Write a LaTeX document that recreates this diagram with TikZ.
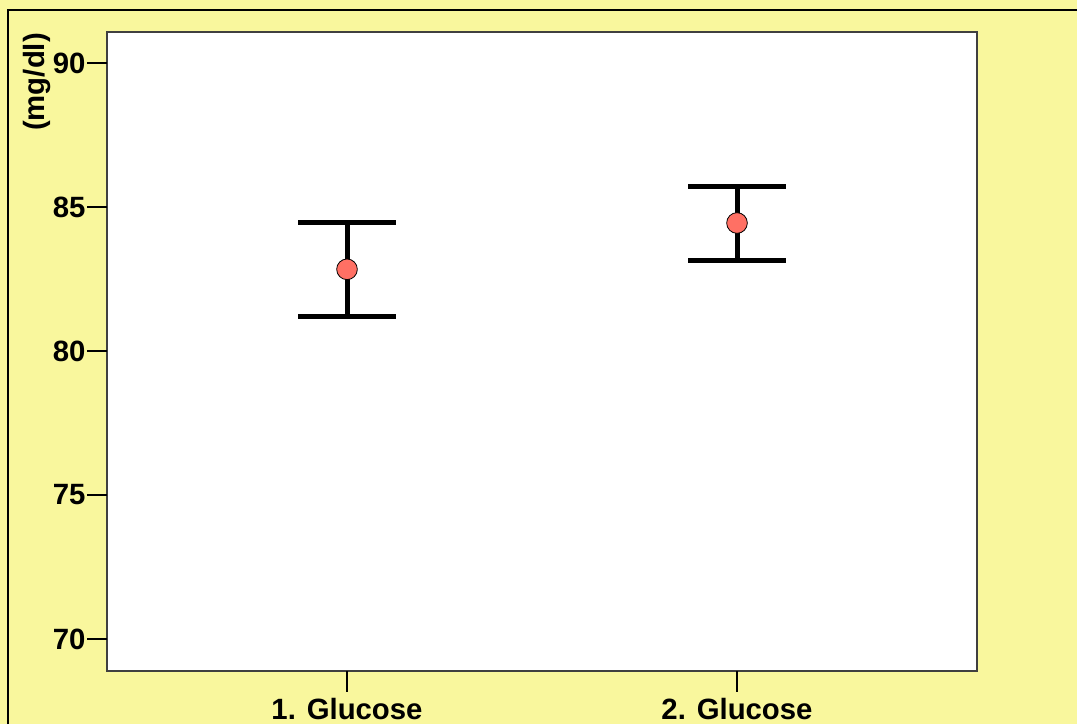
\documentclass[tikz,border=0pt]{standalone}
\usepackage{fontspec}
\setmainfont{Liberation Sans}
\usetikzlibrary{calc}
\definecolor{paper}{RGB}{249,247,157}
\definecolor{dot}{RGB}{255,112,100}

\begin{document}
\begin{tikzpicture}[x=0.75pt,y=-0.75pt,
    lbl/.style={font=\fontsize{22}{26}\selectfont\bfseries},
    bar/.style={line width=3.75pt},
    tk/.style={line width=1pt},
    meanpt/.style={circle,draw=black,line width=0.6pt,fill=dot,minimum size=15.5pt,inner sep=0pt}]
    \useasboundingbox (0,0) rectangle (1077,724);
    \fill[paper] (0,0) rectangle (1077,724);
    \draw[line width=1.5pt] (8,724) -- (8,10) -- (1077,10);
    % plot area
    \coordinate (P1) at (107,32);
    \coordinate (P2) at (977,671);
    \draw[fill=white,draw=black!75,line width=1.1pt] (P1) rectangle (P2);
    % y axis
    \foreach \v in {70,75,...,90}{
        \pgfmathsetmacro\yy{2655-28.8*\v}
        \coordinate (t\v) at (107,\yy);
        \coordinate (s\v) at (87,\yy);
        \draw[tk] (t\v) -- (s\v);
        \node[lbl,left,inner sep=1pt] (n\v) at (s\v) {\v};
    }
    \node[lbl,rotate=90] (unit) at (37,82) {(mg/dl)};
    % x axis
    \coordinate (g1) at (347,671);
    \coordinate (h1) at (347,692);
    \coordinate (g2) at (737,671);
    \coordinate (h2) at (737,692);
    \draw[tk] (g1) -- (h1);
    \draw[tk] (g2) -- (h2);
    \node[lbl,anchor=base] (x1) at (347,719) {1. Glucose};
    \node[lbl,anchor=base] (x2) at (737,719) {2. Glucose};
    % error bars
    \coordinate (a1) at (347,222.7);
    \coordinate (b1) at (347,316.7);
    \coordinate (a2) at (737,186);
    \coordinate (b2) at (737,260.7);
    \draw[bar] (a1) -- (b1);
    \draw[bar] ($(a1)+(-49,0)$) -- ($(a1)+(49,0)$);
    \draw[bar] ($(b1)+(-49,0)$) -- ($(b1)+(49,0)$);
    \draw[bar] (a2) -- (b2);
    \draw[bar] ($(a2)+(-49,0)$) -- ($(a2)+(49,0)$);
    \draw[bar] ($(b2)+(-49,0)$) -- ($(b2)+(49,0)$);
    \node[meanpt] (m1) at (347,269.3) {};
    \node[meanpt] (m2) at (737,223) {};
\end{tikzpicture}
\end{document}
